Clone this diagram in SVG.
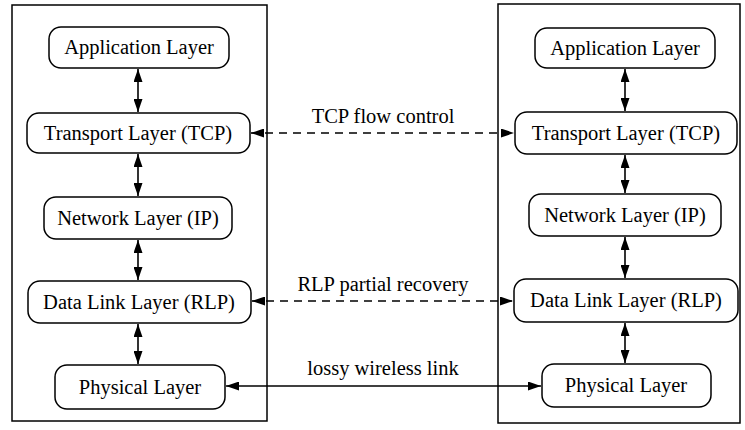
<svg xmlns="http://www.w3.org/2000/svg" width="745" height="430" viewBox="0 0 745 430">
<style>
.frame{fill:none;stroke:#000;stroke-width:1.5}
.node rect{fill:#fff;stroke:#000;stroke-width:1.5}
text{font-family:"Liberation Serif","Times New Roman",serif;font-size:20.5px;fill:#000;text-anchor:middle}
.v{stroke:#000;stroke-width:1.6;fill:none}
.dash{stroke:#000;stroke-width:1.6;fill:none;stroke-dasharray:8,6}
.solid{stroke:#000;stroke-width:1.6;fill:none}
</style>
<defs>
<marker id="ah" markerWidth="13" markerHeight="9" refX="13" refY="4.5" orient="auto-start-reverse" markerUnits="userSpaceOnUse">
<path d="M0,0 L13,4.5 L0,9 Z" fill="#000"/>
</marker>
</defs>
<rect class="frame" x="12" y="5" width="255" height="416"/>
<rect class="frame" x="498" y="4" width="242" height="419"/>

<g id="L-app" class="node"><rect x="49" y="27" width="180" height="41" rx="12"/><text x="139" y="54">Application Layer</text></g>
<g id="L-tcp" class="node"><rect x="27" y="113" width="223" height="40" rx="12"/><text x="138" y="140">Transport Layer (TCP)</text></g>
<g id="L-ip" class="node"><rect x="44" y="197" width="188" height="42" rx="12"/><text x="138" y="225">Network Layer (IP)</text></g>
<g id="L-rlp" class="node"><rect x="28" y="281" width="223" height="42" rx="12"/><text x="139" y="309">Data Link Layer (RLP)</text></g>
<g id="L-phy" class="node"><rect x="55" y="365" width="170" height="44" rx="12"/><text x="140" y="394">Physical Layer</text></g>

<g id="R-app" class="node"><rect x="535" y="28" width="180" height="40" rx="12"/><text x="625" y="55">Application Layer</text></g>
<g id="R-tcp" class="node"><rect x="515" y="112" width="222" height="42" rx="12"/><text x="626" y="140">Transport Layer (TCP)</text></g>
<g id="R-ip" class="node"><rect x="529" y="194" width="192" height="42" rx="12"/><text x="625" y="222">Network Layer (IP)</text></g>
<g id="R-rlp" class="node"><rect x="514" y="279" width="224" height="43" rx="12"/><text x="626" y="307">Data Link Layer (RLP)</text></g>
<g id="R-phy" class="node"><rect x="542" y="364" width="169" height="43" rx="12"/><text x="626" y="392">Physical Layer</text></g>

<g id="connectors">
<line class="v" x1="138" y1="69" x2="138" y2="112" marker-start="url(#ah)" marker-end="url(#ah)"/>
<line class="v" x1="138" y1="154" x2="138" y2="196" marker-start="url(#ah)" marker-end="url(#ah)"/>
<line class="v" x1="138" y1="240" x2="138" y2="280" marker-start="url(#ah)" marker-end="url(#ah)"/>
<line class="v" x1="138" y1="324" x2="138" y2="364" marker-start="url(#ah)" marker-end="url(#ah)"/>
<line class="v" x1="625" y1="69" x2="625" y2="111" marker-start="url(#ah)" marker-end="url(#ah)"/>
<line class="v" x1="625" y1="155" x2="625" y2="193" marker-start="url(#ah)" marker-end="url(#ah)"/>
<line class="v" x1="625" y1="237" x2="625" y2="278" marker-start="url(#ah)" marker-end="url(#ah)"/>
<line class="v" x1="625" y1="323" x2="625" y2="363" marker-start="url(#ah)" marker-end="url(#ah)"/>
<line class="dash" x1="251" y1="133" x2="514" y2="133" marker-start="url(#ah)" marker-end="url(#ah)"/>
<line class="dash" x1="252" y1="301" x2="513" y2="301" marker-start="url(#ah)" marker-end="url(#ah)"/>
<line class="solid" x1="226" y1="386" x2="541" y2="386" marker-start="url(#ah)" marker-end="url(#ah)"/>
<text x="383" y="123">TCP flow control</text>
<text x="383" y="291">RLP partial recovery</text>
<text x="383" y="375">lossy wireless link</text>
</g>
</svg>
